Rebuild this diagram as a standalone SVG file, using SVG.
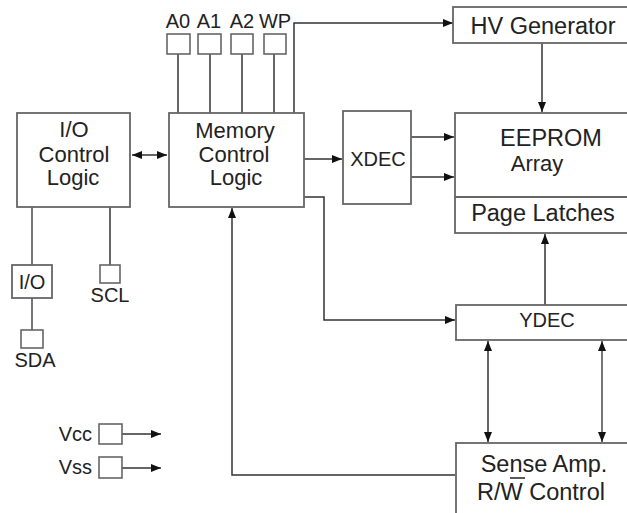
<svg xmlns="http://www.w3.org/2000/svg" width="627" height="513" viewBox="0 0 627 513">
<style>
.box{fill:#fff;stroke:#666;stroke-width:1.8}
.pin{fill:#fff;stroke:#666;stroke-width:1.6}
.ln{fill:none;stroke:#333;stroke-width:1.5}
.gl{fill:none;stroke:#777;stroke-width:2}
text{font-family:"Liberation Sans",Arial,sans-serif;fill:#222;text-anchor:middle}
.t{font-size:22px}
.w{font-size:23.5px}
.p{font-size:20px}
</style>
<defs>
<marker id="ah" viewBox="0 0 10 8" refX="10" refY="4" markerWidth="11" markerHeight="8" markerUnits="userSpaceOnUse" orient="auto-start-reverse">
<path d="M0,0 L10,4 L0,8 Z" fill="#111"/>
</marker>
</defs>
<rect width="627" height="513" fill="#fff"/>
<g id="connectors">
<line class="ln" x1="178" y1="54" x2="178" y2="113"/>
<line class="ln" x1="210" y1="54" x2="210" y2="113"/>
<line class="ln" x1="242" y1="54" x2="242" y2="113"/>
<line class="ln" x1="274" y1="54" x2="274" y2="113"/>
<polyline class="ln" points="294,113 294,23 453,23" marker-end="url(#ah)"/>
<line class="ln" x1="132" y1="155" x2="167" y2="155" marker-start="url(#ah)" marker-end="url(#ah)"/>
<line class="ln" x1="304" y1="159" x2="342" y2="159" marker-end="url(#ah)"/>
<line class="ln" x1="411" y1="137" x2="454" y2="137" marker-end="url(#ah)"/>
<line class="ln" x1="411" y1="177" x2="454" y2="177" marker-end="url(#ah)"/>
<line class="ln" x1="542" y1="43" x2="542" y2="112" marker-end="url(#ah)"/>
<line class="ln" x1="545" y1="305" x2="545" y2="234" marker-end="url(#ah)"/>
<polyline class="ln" points="304,197 324,197 324,320 455,320" marker-end="url(#ah)"/>
<line class="ln" x1="488" y1="341" x2="488" y2="442" marker-start="url(#ah)" marker-end="url(#ah)"/>
<line class="gl" x1="602" y1="341" x2="602" y2="442" marker-start="url(#ah)" marker-end="url(#ah)"/>
<polyline class="ln" points="455,475 232,475 232,208" marker-end="url(#ah)"/>
<line class="gl" x1="32" y1="207" x2="32" y2="265"/>
<line class="gl" x1="32" y1="298" x2="32" y2="330"/>
<line class="ln" x1="110" y1="207" x2="110" y2="265"/>
<line class="ln" x1="122" y1="434" x2="161" y2="434" marker-end="url(#ah)"/>
<line class="ln" x1="122" y1="468" x2="161" y2="468" marker-end="url(#ah)"/>
</g>
<g id="pin-a0"><rect class="pin" x="167" y="34" width="23" height="20"/><text class="p" x="178" y="28">A0</text></g>
<g id="pin-a1"><rect class="pin" x="198" y="34" width="23" height="20"/><text class="p" x="209" y="28">A1</text></g>
<g id="pin-a2"><rect class="pin" x="231" y="34" width="22" height="20"/><text class="p" x="242" y="28">A2</text></g>
<g id="pin-wp"><rect class="pin" x="264" y="34" width="22" height="20"/><text class="p" x="275" y="28">WP</text></g>
<g id="io-control"><rect class="box" x="17" y="113" width="113" height="94"/>
<text class="t" x="74" y="137">I/O</text><text class="t" x="74" y="162">Control</text><text class="t" x="73" y="185">Logic</text></g>
<g id="memory-control"><rect class="box" x="169" y="113" width="135" height="94"/>
<text class="t" x="235" y="138">Memory</text><text class="t" x="234" y="162">Control</text><text class="t" x="236" y="185">Logic</text></g>
<g id="hv-generator"><rect class="box" x="453" y="7" width="190" height="36"/><text class="w" x="543" y="34">HV Generator</text></g>
<g id="xdec"><rect class="box" x="343" y="111" width="68" height="93"/><text class="p" x="378" y="166">XDEC</text></g>
<g id="eeprom"><rect class="box" x="455" y="113" width="190" height="120"/><line x1="455" y1="197" x2="645" y2="197" stroke="#666" stroke-width="1.8"/>
<text class="w" x="551" y="146">EEPROM</text><text class="t" x="537" y="171">Array</text><text class="w" x="543" y="221">Page Latches</text></g>
<g id="ydec"><rect class="box" x="456" y="305" width="190" height="35"/><text class="p" x="547" y="327">YDEC</text></g>
<g id="sense-amp"><rect class="box" x="456" y="443" width="190" height="80"/>
<text class="w" x="544" y="472">Sense Amp.</text><text class="w" x="541" y="500">R/W Control</text>
<line x1="510" y1="478" x2="525" y2="478" stroke="#222" stroke-width="1.5"/></g>
<g id="io-buffer"><rect class="box" x="12" y="265" width="40" height="33"/><text class="p" x="32" y="289">I/O</text></g>
<g id="pin-sda"><rect class="pin" x="21" y="330" width="22" height="18"/><text class="p" x="35" y="367">SDA</text></g>
<g id="pin-scl"><rect class="pin" x="100" y="265" width="20" height="18"/><text class="p" x="110" y="302">SCL</text></g>
<g id="pin-vcc"><rect class="pin" x="99" y="424" width="23" height="20"/><text class="p" x="92" y="441" style="text-anchor:end">Vcc</text></g>
<g id="pin-vss"><rect class="pin" x="99" y="457" width="23" height="21"/><text class="p" x="92" y="474" style="text-anchor:end">Vss</text></g>
</svg>
